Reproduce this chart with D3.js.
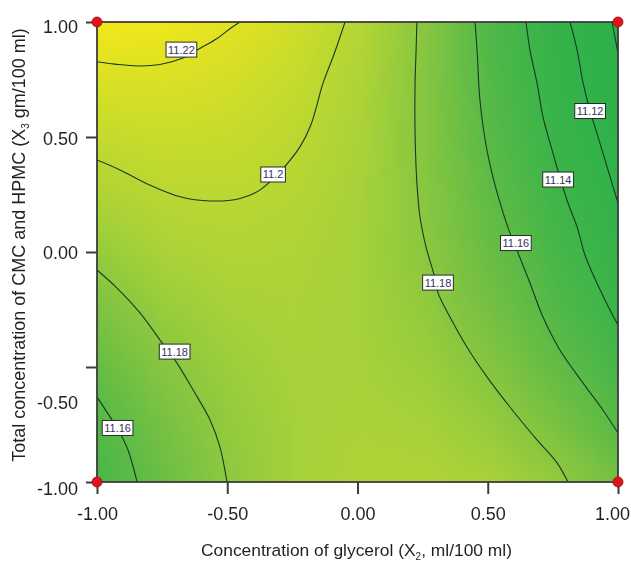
<!DOCTYPE html>
<html><head><meta charset="utf-8">
<script src="https://cdn.jsdelivr.net/npm/d3@7"></script>
<style>
body{margin:0;background:#fff;}
#wrap{position:relative;width:631px;height:565px;overflow:hidden;}
canvas,svg{position:absolute;left:0;top:0;}
text{font-family:"Liberation Sans",Arial,Helvetica,sans-serif;}
</style></head><body>
<div id="wrap"><canvas id="bg" width="631" height="565"></canvas><svg id="chart" width="631" height="565"></svg></div>
<script>
// ---- data (coded factor levels, response) ----
const gridX = [-1, -0.75, -0.5, -0.25, 0, 0.25, 0.5, 0.75, 1];
const gridZ = [1, 0.75, 0.5, 0.25, 0, -0.25, -0.5, -0.75, -1];
const response = [
  [11.2300, 11.2280, 11.2218, 11.2114, 11.1968, 11.1780, 11.1550, 11.1280, 11.0966],
  [11.2172, 11.2176, 11.2138, 11.2058, 11.1937, 11.1773, 11.1567, 11.1321, 11.1031],
  [11.2052, 11.2080, 11.2066, 11.2011, 11.1913, 11.1774, 11.1592, 11.1370, 11.1105],
  [11.1939, 11.1992, 11.2002, 11.1971, 11.1898, 11.1782, 11.1625, 11.1427, 11.1186],
  [11.1835, 11.1912, 11.1946, 11.1939, 11.1890, 11.1799, 11.1666, 11.1492, 11.1275],
  [11.1738, 11.1840, 11.1898, 11.1915, 11.1890, 11.1823, 11.1715, 11.1565, 11.1372],
  [11.1650, 11.1775, 11.1857, 11.1899, 11.1898, 11.1856, 11.1771, 11.1645, 11.1477],
  [11.1569, 11.1719, 11.1825, 11.1890, 11.1914, 11.1896, 11.1836, 11.1734, 11.1589],
  [11.1496, 11.1670, 11.1800, 11.1890, 11.1938, 11.1944, 11.1908, 11.1830, 11.1710]
];

const contour_11_22 = [[-1,0.827],[-0.931,0.817],[-0.843,0.809],[-0.758,0.815],[-0.670,0.843],[-0.605,0.885],[-0.539,0.928],[-0.486,0.974],[-0.451,1]];
const contour_11_20 = [[-1,0.4],[-0.912,0.357],[-0.797,0.291],[-0.681,0.240],[-0.566,0.222],[-0.451,0.233],[-0.374,0.270],[-0.298,0.348],[-0.221,0.457],[-0.179,0.552],[-0.132,0.735],[-0.094,0.848],[-0.067,0.935],[-0.048,1]];
const contour_11_18a = [[0.228,1],[0.225,0.878],[0.221,0.735],[0.221,0.517],[0.228,0.300],[0.240,0.152],[0.263,0.022],[0.294,-0.1],[0.309,-0.178],[0.355,-0.283],[0.420,-0.413],[0.497,-0.543],[0.585,-0.674],[0.689,-0.817],[0.766,-0.917],[0.808,-1]];
const contour_11_18b = [[-1,-0.078],[-0.923,-0.157],[-0.835,-0.265],[-0.758,-0.383],[-0.693,-0.483],[-0.631,-0.6],[-0.566,-0.730],[-0.528,-0.848],[-0.501,-1]];
const contour_11_16a = [[-1,-0.630],[-0.950,-0.717],[-0.912,-0.787],[-0.881,-0.861],[-0.846,-1]];
const contour_11_16b = [[0.451,1],[0.459,0.878],[0.470,0.661],[0.497,0.443],[0.536,0.257],[0.585,0.083],[0.612,0.009],[0.662,-0.135],[0.712,-0.283],[0.777,-0.426],[0.866,-0.570],[0.942,-0.687],[1,-0.787]];
const contour_11_14 = [[0.647,1],[0.662,0.878],[0.689,0.735],[0.712,0.587],[0.747,0.443],[0.804,0.226],[0.843,0.109],[0.873,-0.013],[0.919,-0.135],[0.969,-0.252],[1,-0.317]];
const contour_11_12 = [[0.816,1],[0.843,0.878],[0.866,0.735],[0.893,0.613],[0.919,0.517],[0.958,0.370],[1,0.213]];
const contour_11_10 = [[0.977,1],[0.988,0.935],[1,0.865]];
const contourLines = [contour_11_22, contour_11_20, contour_11_18a, contour_11_18b, contour_11_16a, contour_11_16b, contour_11_14, contour_11_12, contour_11_10];

const labelTexts = ["11.22", "11.2", "11.18", "11.18", "11.16", "11.16", "11.14", "11.12"];
const labelX = [-0.676, -0.324, 0.309, -0.702, -0.921, 0.608, 0.770, 0.893];
const labelZ = [0.880, 0.337, -0.133, -0.433, -0.765, 0.039, 0.315, 0.613];

const designX = [-1, 1, -1, 1];
const designZ = [1, 1, -1, -1];

const xTicks = [-1, -0.5, 0, 0.5, 1];
const xTickLabels = ["-1.00", "-0.50", "0.00", "0.50", "1.00"];
const yTicks = [1, 0.5, 0, -0.5, -1];
const yTickLabels = ["1.00", "0.50", "0.00", "-0.50", "-1.00"];

// ---- scales ----
const W = 631, H = 565;
const x = d3.scaleLinear().domain([-1, 1]).range([97, 618]);
const y = d3.scaleLinear().domain([-1, 1]).range([482, 22]);
const color = d3.scaleLinear()
  .domain([11.10, 11.135, 11.155, 11.17, 11.19, 11.23])
  .range(["#2bb14b", "#37b34a", "#4fb848", "#72bf44", "#a8d23a", "#f2e81b"])
  .clamp(true);

// ---- background colour field ----
const small = document.createElement("canvas");
small.width = gridX.length; small.height = gridZ.length;
const sctx = small.getContext("2d");
const img = sctx.createImageData(gridX.length, gridZ.length);
response.forEach((row, i) => row.forEach((v, j) => {
  const c = d3.rgb(color(v));
  const k = (i * gridX.length + j) * 4;
  img.data[k] = c.r; img.data[k + 1] = c.g; img.data[k + 2] = c.b; img.data[k + 3] = 255;
}));
sctx.putImageData(img, 0, 0);
const ctx = document.getElementById("bg").getContext("2d");
ctx.save();
ctx.beginPath();
ctx.rect(x(-1), y(1), x(1) - x(-1), y(-1) - y(1));
ctx.clip();
ctx.imageSmoothingEnabled = true;
const hx = (gridX[1] - gridX[0]) / 2, hz = (gridZ[0] - gridZ[1]) / 2;
ctx.drawImage(small, x(-1 - hx), y(1 + hz), x(1 + hx) - x(-1 - hx), y(-1 - hz) - y(1 + hz));
ctx.restore();

// ---- svg ----
const svg = d3.select("#chart");
svg.append("defs").append("clipPath").attr("id", "plotclip")
  .append("rect").attr("x", x(-1)).attr("y", y(1))
  .attr("width", x(1) - x(-1)).attr("height", y(-1) - y(1));

const line = d3.line().x(d => x(d[0])).y(d => y(d[1])).curve(d3.curveCatmullRom.alpha(0.5));
svg.append("g").attr("clip-path", "url(#plotclip)")
  .selectAll("path").data(contourLines).join("path")
  .attr("d", line).attr("fill", "none")
  .attr("stroke", "#173a26").attr("stroke-width", 1.1);

// contour labels
const lab = svg.append("g").selectAll("g").data(labelTexts).join("g")
  .attr("transform", (d, i) => `translate(${x(labelX[i])},${y(labelZ[i])})`);
lab.append("text").text(d => d)
  .attr("text-anchor", "middle").attr("dy", "0.36em")
  .attr("font-size", 11).attr("fill", "#343458");
lab.each(function () {
  const g = d3.select(this);
  const bb = g.select("text").node().getBBox();
  g.insert("rect", "text")
    .attr("x", bb.x - 2).attr("y", -7.5)
    .attr("width", bb.width + 4).attr("height", 15)
    .attr("fill", "#fff").attr("stroke", "#2a2a2a").attr("stroke-width", 1);
});

// frame
svg.append("rect").attr("x", x(-1)).attr("y", y(1))
  .attr("width", x(1) - x(-1)).attr("height", y(-1) - y(1))
  .attr("fill", "none").attr("stroke", "#3c3c3c").attr("stroke-width", 1.8);

// axes
const xAxis = svg.append("g").attr("transform", `translate(0,${y(-1)})`)
  .call(d3.axisBottom(x).tickValues(xTicks).tickSizeInner(12).tickSizeOuter(0)
    .tickFormat((d, i) => xTickLabels[i]));
xAxis.select(".domain").remove();
xAxis.selectAll(".tick line").attr("stroke", "#3c3c3c").attr("stroke-width", 2);
xAxis.selectAll(".tick text").attr("font-size", 18).attr("fill", "#231f20")
  .attr("font-family", null).attr("y", 38).attr("dy", 0)
  .attr("x", (d, i) => i === xTicks.length - 1 ? -6 : 0);

const yDy = [10, 7, 6.5, 41, 12.5];
const yAxis = svg.append("g").attr("transform", `translate(${x(-1)},0)`)
  .call(d3.axisLeft(y).tickValues(yTicks).tickSizeInner(11).tickSizeOuter(0)
    .tickFormat((d, i) => yTickLabels[i]));
yAxis.select(".domain").remove();
yAxis.selectAll(".tick line").attr("stroke", "#3c3c3c").attr("stroke-width", 2);
yAxis.selectAll(".tick text").attr("font-size", 18).attr("fill", "#231f20")
  .attr("font-family", null).attr("x", -19).attr("dy", 0)
  .attr("y", (d, i) => yDy[i]);
svg.selectAll(".tick text").style("font-family", '"Liberation Sans",Arial,sans-serif');

// design points
svg.append("g").selectAll("circle").data(designX).join("circle")
  .attr("cx", d => x(d)).attr("cy", (d, i) => y(designZ[i])).attr("r", 5)
  .attr("fill", "#e3121b").attr("stroke", "#9a0a10").attr("stroke-width", 0.8);

// axis titles
const xt = svg.append("text").attr("x", 356.5).attr("y", 556)
  .attr("text-anchor", "middle").attr("font-size", 17.4).attr("fill", "#231f20");
xt.append("tspan").text("Concentration of glycerol (X");
xt.append("tspan").text("2").attr("font-size", 10).attr("dy", 4);
xt.append("tspan").text(", ml/100 ml)").attr("dy", -4);

const yt = svg.append("text").attr("transform", "translate(25,245) rotate(-90)")
  .attr("text-anchor", "middle").attr("font-size", 18).attr("fill", "#231f20");
yt.append("tspan").text("Total concentration of CMC and HPMC (X");
yt.append("tspan").text("3").attr("font-size", 10).attr("dy", 4);
yt.append("tspan").text(" gm/100 ml)").attr("dy", -4);
</script>
</body></html>
